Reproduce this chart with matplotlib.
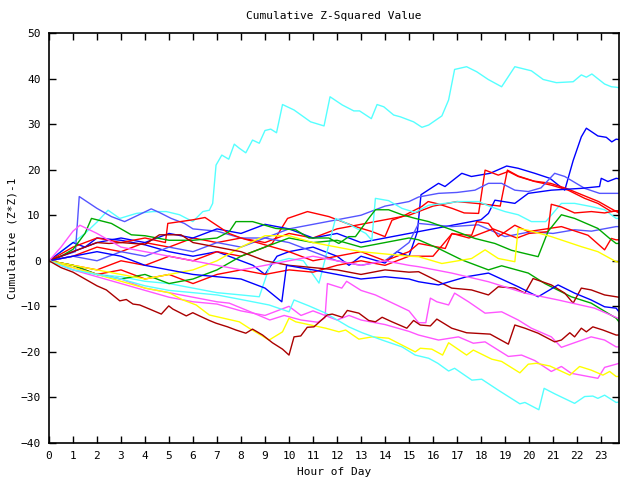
import matplotlib
matplotlib.use("Agg")
import matplotlib.pyplot as plt

# cumulative (Z*Z)-1 per series (hour, value knots)
cyan_top_h = [0, 0.5, 1, 1.5, 2, 2.46, 2.95, 3.64, 4.33, 4.89, 5.44, 5.99, 6.41, 6.68, 6.82, 6.96, 7.2, 7.49,
              7.72, 7.93, 8.2, 8.48, 8.76, 9.0, 9.24, 9.48, 9.73, 10.21, 10.9, 11.46, 11.71, 12.22, 12.7, 12.94,
              13.43, 13.67, 13.95, 14.36, 14.64, 15.19, 15.54, 15.82, 16.37, 16.65, 16.9, 17.4, 17.82, 18.3,
              18.86, 19.41, 20.1, 20.59, 21.14, 21.84, 22.18, 22.39, 22.62, 23.15, 23.43, 23.63, 23.75]
cyan_top_v = [0, 2, 4, 6, 8.5, 11.1, 9.3, 10.4, 10.8, 10.8, 10.1, 8.6, 10.8, 11.1, 12.6, 21, 23.2, 22.3,
              25.6, 24.7, 23.7, 26.5, 25.8, 28.6, 28.9, 28.1, 34.3, 33.1, 30.5, 29.6, 36.0, 34.2, 32.9, 32.9,
              31.2, 34.3, 33.8, 32.0, 31.6, 30.5, 29.3, 29.8, 31.8, 35.3, 42.0, 42.6, 41.5, 39.8,
              38.2, 42.6, 41.7, 39.8, 39.1, 39.3, 40.8, 40.3, 41.0, 38.8, 38.2, 38.1, 38.0]

blue_jump_h = [0, 0.5, 1, 1.5, 2, 3, 4, 5, 6, 7, 8, 8.5, 9, 9.5, 10, 11, 12, 12.5, 13, 14, 14.5, 15, 15.35,
               15.5, 16.23, 16.5, 17.2, 17.6, 18.38, 19.07, 19.55, 20.24, 20.87, 21.49, 21.84, 22.18, 22.39,
               22.87, 23.22, 23.45, 23.63, 23.75]
blue_jump_v = [0, 2, 4, 3, 5, 4.5, 3.5, 2, 1, 2, 0, -1, -3, 1, 2, 3, 1, -1, 1, -0.5, 2, 1, 6.4,
               14.5, 17, 16.3, 19.2, 18.5, 19.2, 20.8, 20.3, 19.2, 18.1, 15.5, 22, 27.2, 29.1,
               27.4, 27.1, 26.1, 26.7, 26.6]

red_a_h = [0, 1, 2, 3, 4, 5, 6, 7, 8, 9, 9.3, 9.94, 10.77, 11.66, 12.77, 13.46, 14.0, 14.29, 14.71, 15.53,
           15.8, 16.2, 16.8, 17.3, 17.9, 18.17, 18.72, 19.14, 19.55, 20.24, 20.93, 21.63, 22.32, 22.87,
           23.43, 23.75]
red_a_v = [0, -1, -2, 0, -1, 1, 0, 2, 1, 3, 3.8, 9.3, 10.8, 9.7, 7.5, 6.4, 5.3, 8.9, 9.7, 11.9,
           13.0, 12.5, 11.5, 10.5, 10.4, 19.9, 18.8, 19.6, 18.5, 17.4, 16.6, 15.5, 13.7, 12.6,
           10.8, 11.0]

red_b_h = [0, 1, 2, 3, 4, 5, 6, 7, 8, 9, 10, 11, 12, 13, 14, 15, 16, 17, 18, 18.8, 19.1, 19.55, 20.2,
           20.9, 21.6, 22.2, 22.9, 23.4, 23.75]
red_b_v = [0, 1, 3, 2, 4, 3, 5, 4, 5, 4, 6, 5, 7, 8, 9, 10, 12, 13, 12.5, 12, 19.9, 18.6, 17.5,
           17.0, 15.8, 14.5, 13, 11.5, 10.5]

lblue_a_h = [0, 0.5, 1.1, 1.26, 2.0, 2.6, 3.15, 3.71, 4.26, 4.6, 5.09, 5.64, 6, 7, 8, 9, 10, 11, 12, 13,
             14, 15, 15.4, 16.23, 17.0, 17.75, 18.31, 18.86, 19.41, 19.97, 20.5, 21.07, 21.49, 22.32,
             22.94, 23.63, 23.75]
lblue_a_v = [0, 1, 2, 14.1, 11.5, 9.7, 8.6, 10.0, 11.4, 10.6, 9.3, 8.2, 7, 6.5, 5, 5, 7, 8, 9, 10,
             12, 13, 14, 14.8, 15, 15.5, 17.0, 17.0, 15.5, 15.2, 16, 19.2, 18.5, 15.9,
             14.8, 14.8, 14.8]

blue_b_h = [0, 1, 2, 3, 4, 5, 6, 7, 8, 9, 10, 11, 12, 13, 14, 15, 16, 17, 18, 18.31, 18.58, 19.41, 19.97,
            20.93, 22.18, 22.94, 23.01, 23.29, 23.63, 23.75]
blue_b_v = [0, 2, 4, 5, 4, 6, 5, 7, 6, 8, 7, 5, 6, 4, 5, 6, 7, 8, 9, 10.4, 13.3, 12.6, 14.8,
            15.5, 15.9, 16.3, 18.1, 17.4, 18.1, 18.0]

cyan_mid_h = [0, 0.5, 1, 2, 3, 4, 5, 6, 7, 8, 8.76, 9.24, 10, 10.6, 11.25, 11.94, 12.5, 13.2, 13.45, 13.6,
              14.15, 14.71, 15.26, 15.82, 16.5, 17.06, 17.9, 18.38, 19.0, 19.55, 20.1, 20.7, 21.35, 21.9,
              22.59, 23.15, 23.63, 23.75]
cyan_mid_v = [0, -1, -2, -3, -3.5, -4.5, -5, -6, -7, -7.5, -7.9, -0.5, 0.5, 0, -4.9, 9.3, 8, 6, 4.5, 13.7,
              13.2, 11.5, 10.6, 12.2, 12.6, 13.0, 13.0, 11.9, 10.8, 10.1, 8.6, 8.6, 12.6, 12.6,
              11.9, 11.2, 9.3, 9.3]

lblue_b_h = [0, 1, 2, 3, 4, 5, 6, 7, 8, 9, 10, 11, 12, 13, 14, 15, 15.4, 16.78, 17.89, 19.0, 20.1, 21.0,
             21.9, 22.6, 23.63, 23.75]
lblue_b_v = [0, 1, 0, 2, 1, 3, 2, 4, 3, 5, 4, 2, 0, -1, 0, 4, 8.2, 7.5, 7.9, 5.3, 6.4, 6.0,
             6.8, 6.5, 7.5, 7.5]

red_c_h = [0, 1, 2, 3, 4, 4.85, 4.95, 6, 6.5, 7.5, 8, 9, 10, 11, 12, 13, 14, 15, 15.4, 16.51, 16.78,
           17.61, 17.82, 18.31, 18.72, 19.41, 19.97, 21.35, 22.46, 23.15, 23.43, 23.63, 23.75]
red_c_v = [0, 3, 5, 4, 5, 4, 8.2, 9, 9.5, 6, 5, 3.5, 2, 0, 1, 2, 0, 2, 3.8, 2.7, 5.9,
           5.6, 8.6, 8.2, 5.3, 7.8, 6.4, 7.5, 5.6, 2.4, 4.9, 4.6, 4.6]

red_d_h = [0, 1, 2, 3, 4, 5, 6, 7, 8, 9, 10, 11, 12, 13, 14, 15, 16, 16.8, 17.5, 18, 18.5, 19, 19.5, 20,
           20.79, 20.93, 21.35, 21.9, 22.6, 23.15, 23.63, 23.75]
red_d_v = [0, -1, -3, -2, -4, -3, -5, -3, -2, -3, -2, -2.5, -1, 0, -1, 1, 1, 6, 5, 6, 7, 6, 5, 6,
           6.4, 12.4, 11.8, 10.5, 10.8, 10.5, 11.0, 10.8]

green_a_h = [0, 0.5, 1, 1.5, 1.77, 2.6, 3.43, 4, 5, 6, 7, 7.51, 7.79, 8.48, 9.45, 10.28, 10.83, 11.66, 12.08,
             12.49, 12.77, 13.32, 13.6, 14.15, 14.71, 15.26, 15.82, 16.78, 17.75, 18.58, 19.27, 20.38,
             20.79, 21.35, 21.9, 22.87, 23.36, 23.63, 23.75]
green_a_v = [0, 1, 2.5, 6, 9.3, 8.2, 5.7, 5.5, 4.5, 4.5, 5, 6.4, 8.6, 8.6, 7.1, 6.8, 5.0, 5.0, 3.8,
             5.3, 5.3, 9.3, 11.2, 11.2, 10.1, 9.3, 8.6, 6.8, 4.9, 3.8, 2.3, 0.9,
             6.4, 10.1, 9.3, 7.1, 4.9, 3.8, 3.8]

green_b_h = [0, 1, 2, 3, 4, 5, 6, 7, 8, 9, 10, 11, 12, 13, 14, 15, 15.4, 16.23, 17.2, 18.31, 18.86, 19.97,
             20.66, 21.76, 22.59, 23.63, 23.75]
green_b_v = [0, -1, -3, -4, -3, -5, -4, -2, 1, 3, 5, 4, 4.5, 3, 4, 5, 4.6, 2.7, 0.2, -2.0, -1.1, -2.7,
             -5.0, -7.9, -9.3, -12.6, -13.4]

yellow_a_h = [0, 1, 2, 3, 4, 5, 6, 7, 8, 9, 10, 11, 12, 13, 14, 15, 15.4, 16.37, 17.61, 18.17, 18.72,
              19.41, 19.55, 19.97, 20.93, 22.18, 22.87, 23.63, 23.75]
yellow_a_v = [0, -1, -2, -3, -4, -3, -2, 0, 3, 5.5, 5.5, 4, 3, 2, 1.5, 1, 0.9, -0.6, 0.5, 2.4, 0.5,
              -0.2, 7.1, 6.7, 5.3, 3.1, 2.0, -0.2, -0.3]

dred_a_h = [0, 1, 2, 2.5, 3, 4, 4.6, 5.5, 6, 7, 8, 9, 10, 11, 12, 13, 14, 15, 15.4, 16.78, 17.61, 18.31,
            18.72, 19.41, 19.83, 20.17, 20.93, 21.49, 21.84, 22.18, 22.59, 23.15, 23.63, 23.75]
dred_a_v = [0, 2, 4, 3.8, 4, 3.6, 5.7, 5.7, 4, 3, 2, 0, -1, -1.5, -2, -3, -2, -2.5, -2.4, -6.0, -6.4,
            -7.5, -5.7, -6.0, -7.1, -3.9, -5.3, -7.1, -9.3, -6.0, -6.4, -7.5, -7.9, -8.0]

blue_c_h = [0, 1, 2, 3, 4, 5, 6, 7, 8, 9, 9.7, 9.9, 11, 12, 13, 14, 15, 15.4, 16.23, 17.4, 18.31, 19.55,
            20.38, 21.21, 21.9, 22.59, 23.15, 23.63, 23.75]
blue_c_v = [0, 1, 2, 1, -1, -2, -3, -3.5, -4, -6, -9, -1, -2, -3, -4, -3.5, -4, -4.6, -5.3, -3.5, -2.7,
            -5.7, -7.9, -5.3, -7.1, -8.6, -10.1, -10.4, -11.2]

mag_a_h = [0, 0.5, 1, 1.29, 2, 3, 4, 5, 6, 7, 8, 9, 10, 11, 12, 13, 14, 15, 15.4, 16.78, 18.31, 19.83,
           21.21, 22.73, 23.75]
mag_a_v = [0, 3, 6.5, 7.8, 6, 3, 2, 1, 0, -1, -2, -1, 0, 1, 0, -1, 0, -1, -1.3, -2.7, -4.6, -7.1,
           -8.6, -10.4, -12.7]

mag_b_h = [0, 1, 2, 3, 4, 5, 6, 7, 7.51, 8.3, 9.2, 9.8, 10.5, 11.2, 11.5, 11.6, 12.2, 12.4, 13, 13.6,
           14.2, 15, 15.4, 15.7, 15.89, 16.16, 16.65, 16.9, 17.48, 18.17, 18.86, 19.55, 20.1, 20.93,
           21.35, 22.59, 23.15, 23.63, 23.75]
mag_b_v = [0, -1.5, -3, -4, -6, -7, -8, -9, -9.3, -11, -13, -12, -13, -13.5, -12.5, -5, -6, -4.5, -6.5,
           -7.5, -9, -11, -13.6, -13.6, -8.2, -9.0, -9.7, -7.1, -9.0, -11.5, -11.2, -13.0, -14.8,
           -16.7, -19.0, -16.7, -17.4, -18.9, -18.9]

mag_c_h = [0, 1, 2, 3, 4, 5, 6, 7, 8, 9, 10, 10.5, 11, 12, 12.5, 13, 14, 15, 15.4, 16.23, 17.06, 17.68,
           18.17, 19.14, 19.69, 20.24, 20.93, 21.35, 21.76, 22.87, 23.15, 23.63, 23.75]
mag_c_v = [0, -2, -3.5, -5, -6.5, -8, -9, -9.5, -11, -12, -10, -12, -11, -13, -12, -13, -14, -15.5,
           -16.3, -17.4, -16.7, -18.1, -17.8, -21.0, -20.7, -21.9, -24.3, -23.2, -24.7, -25.8, -23.4,
           -22.7, -22.5]

yellow_b_h = [0, 1, 2, 3, 4, 5, 5.58, 6.13, 6.68, 7.93, 8.34, 9.17, 9.73, 10.0, 10.28, 11.53, 12.08,
              12.36, 12.91, 13.47, 14.15, 15.26, 15.47, 15.95, 16.4, 16.65, 17.4, 17.68, 18.45, 18.86,
              19.62, 19.97, 20.31, 20.87, 21.7, 22.11, 22.59, 23.08, 23.36, 23.63, 23.75]
yellow_b_v = [0, -1.5, -3, -4.5, -6, -7, -8.6, -9.7, -11.9, -13.4, -14.8, -17.4, -15.6, -12.6, -13.4,
              -14.8, -15.6, -15.2, -17.2, -16.7, -17.0, -20.0, -19.2, -19.4, -20.7, -18.0, -20.7, -19.6,
              -21.6, -22.1, -24.6, -22.7, -22.5, -23.1, -25.1, -23.2, -24.0, -25.1, -24.3, -25.4, -25.4]

cyan_low_h = [0, 1, 2, 3, 4, 5, 6, 7, 8, 9.17, 10.0, 10.21, 10.83, 11.53, 12.49, 13.05, 13.88, 14.71,
              15.26, 15.82, 16.2, 16.65, 16.9, 17.62, 18.03, 18.72, 19.62, 19.83, 20.41, 20.63, 21.07,
              21.9, 22.32, 22.66, 22.87, 23.15, 23.63, 23.75]
cyan_low_v = [0, -2, -3, -4, -5.5, -6.5, -7, -7.5, -8.5, -9.7, -11.2, -8.6, -9.9, -11.5, -14.5, -15.8,
              -17.4, -18.9, -20.7, -21.4, -22.5, -24.2, -23.6, -26.2, -26.0, -28.4, -31.4, -31.1, -32.7,
              -28.0, -29.2, -31.3, -29.8, -29.7, -30.2, -29.5, -31.1, -31.0]

dred_b_h = [0, 0.5, 1, 1.5, 2, 2.39, 2.95, 3.22, 3.5, 3.78, 4.19, 4.68, 4.99, 5.16, 5.72, 5.99, 6.27,
            6.68, 6.96, 7.44, 7.79, 8.2, 8.48, 8.9, 9.31, 9.73, 10.0, 10.21, 10.49, 10.76, 11.04, 11.59,
            11.8, 12.22, 12.43, 12.91, 13.32, 13.6, 13.88, 14.29, 14.91, 15.19, 15.47, 15.89, 16.16,
            16.78, 17.4, 18.38, 19.14, 19.41, 19.83, 20.38, 21.07, 21.35, 21.7, 21.9, 22.18, 22.39,
            22.66, 23.08, 23.63, 23.75]
dred_b_v = [0, -1.5, -2.5, -4, -5.5, -6.4, -8.8, -8.5, -9.5, -9.7, -10.6, -11.7, -9.9, -10.6, -12.1,
            -11.4, -12.1, -13.1, -13.7, -14.5, -15.2, -15.9, -15.0, -16.3, -18.0, -19.4, -20.7, -16.7,
            -16.5, -14.6, -14.5, -11.9, -11.7, -12.4, -10.9, -11.5, -13.1, -13.4, -12.4, -13.4, -14.8,
            -13.1, -14.1, -14.3, -12.8, -14.8, -15.8, -16.1, -18.3, -14.1, -14.8, -15.9, -17.8, -17.4,
            -15.8, -16.7, -14.8, -15.6, -14.5, -15.2, -16.3, -16.3]

series = [
    (cyan_top_h, cyan_top_v, "#55ffff"),
    (blue_jump_h, blue_jump_v, "#0000ff"),
    (red_a_h, red_a_v, "#ff0000"),
    (red_b_h, red_b_v, "#ff0000"),
    (lblue_a_h, lblue_a_v, "#5555ff"),
    (blue_b_h, blue_b_v, "#0000ff"),
    (cyan_mid_h, cyan_mid_v, "#55ffff"),
    (lblue_b_h, lblue_b_v, "#5555ff"),
    (red_c_h, red_c_v, "#ff0000"),
    (red_d_h, red_d_v, "#ff0000"),
    (green_a_h, green_a_v, "#00aa00"),
    (green_b_h, green_b_v, "#00aa00"),
    (yellow_a_h, yellow_a_v, "#ffff00"),
    (dred_a_h, dred_a_v, "#aa0000"),
    (blue_c_h, blue_c_v, "#0000ff"),
    (mag_a_h, mag_a_v, "#ff55ff"),
    (mag_b_h, mag_b_v, "#ff55ff"),
    (mag_c_h, mag_c_v, "#ff55ff"),
    (yellow_b_h, yellow_b_v, "#ffff00"),
    (cyan_low_h, cyan_low_v, "#55ffff"),
    (dred_b_h, dred_b_v, "#aa0000"),
]

hour_ticks = list(range(0, 24))
value_ticks = list(range(-40, 51, 10))

plt.rcParams["font.family"] = "DejaVu Sans Mono"
fig = plt.figure(figsize=(6.4, 4.8), dpi=100)
ax = fig.add_axes([49 / 640, 37 / 480, 570 / 640, 410 / 480])

for h, v, c in series:
    ax.plot(h, v, color=c, linewidth=1.0)

ax.set_xlim(0, 23.75)
ax.set_ylim(-40, 50)
ax.set_xticks(hour_ticks)
ax.set_yticks(value_ticks)
ax.tick_params(direction="in", top=True, right=True, length=5, width=1, labelsize=8, pad=6)
for s in ax.spines.values():
    s.set_linewidth(1.2)
ax.set_title("Cumulative Z-Squared Value", fontsize=8, pad=10)
ax.set_xlabel("Hour of Day", fontsize=8, labelpad=4)
ax.set_ylabel("Cumulative (Z*Z)-1", fontsize=8, labelpad=2)

fig.savefig("out.png", dpi=100)
